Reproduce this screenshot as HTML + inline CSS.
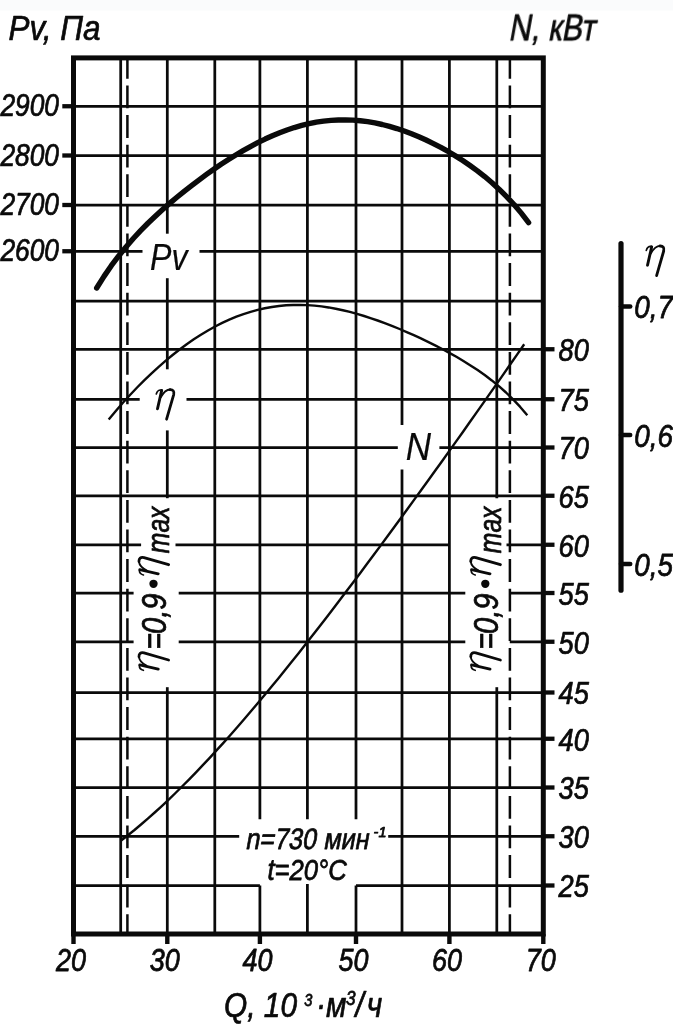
<!DOCTYPE html>
<html lang="ru">
<head>
<meta charset="utf-8">
<title>Fan performance chart</title>
<style>
html,body{margin:0;padding:0;background:#fff;}
body{width:673px;height:1024px;overflow:hidden;font-family:"Liberation Sans",sans-serif;}
svg{display:block;}
svg line,svg path,svg rect{stroke:#0a0a0a;}
svg text{fill:#0a0a0a;stroke:#0a0a0a;stroke-width:0.75px;stroke-linejoin:round;}
.s{font-family:"Liberation Sans",sans-serif;font-style:italic;}
.u{font-family:"Liberation Sans",sans-serif;font-style:normal;}
svg text.g{font-family:"Liberation Serif",serif;font-style:italic;stroke-width:0.1px;}
</style>
</head>
<body>
<svg width="673" height="1024" viewBox="0 0 673 1024">
<rect x="0" y="0" width="673" height="1024" style="fill:#ffffff;stroke:none"/>
<rect x="0" y="0" width="673" height="10.5" style="fill:#fafbfc;stroke:none"/>
<defs><g id="eta" fill="none" stroke-linecap="round" stroke-linejoin="round">
<path d="M2.0,-16.6 C2.6,-18.8 4.2,-20.7 6.6,-20.6" stroke-width="1.7"/>
<path d="M7.4,-20.2 L3.2,-1.8" stroke-width="2.9"/>
<path d="M6.6,-13.6 C8.8,-17.6 12.4,-21.0 16.0,-21.1" stroke-width="1.9"/>
<path d="M15.6,-21.0 C18.6,-21.2 20.2,-19.4 19.4,-16.0 L12.3,8.6" stroke-width="2.8"/>
</g></defs>
<g style="filter:blur(0.45px)">
<line x1="120.70" y1="57.90" x2="120.70" y2="934.00" stroke-width="2.75" />
<line x1="167.30" y1="57.90" x2="167.30" y2="233.70" stroke-width="2.75" />
<line x1="167.30" y1="278.20" x2="167.30" y2="369.30" stroke-width="2.75" />
<line x1="167.30" y1="430.40" x2="167.30" y2="498.20" stroke-width="2.75" />
<line x1="167.30" y1="687.20" x2="167.30" y2="934.00" stroke-width="2.75" />
<line x1="214.80" y1="57.90" x2="214.80" y2="934.00" stroke-width="2.75" />
<line x1="259.90" y1="57.90" x2="259.90" y2="819.20" stroke-width="2.75" />
<line x1="259.90" y1="885.50" x2="259.90" y2="934.00" stroke-width="2.75" />
<line x1="307.40" y1="57.90" x2="307.40" y2="819.20" stroke-width="2.75" />
<line x1="307.40" y1="884.00" x2="307.40" y2="934.00" stroke-width="2.75" />
<line x1="356.00" y1="57.90" x2="356.00" y2="819.20" stroke-width="2.75" />
<line x1="356.00" y1="885.50" x2="356.00" y2="934.00" stroke-width="2.75" />
<line x1="402.00" y1="57.90" x2="402.00" y2="424.90" stroke-width="2.75" />
<line x1="402.00" y1="469.40" x2="402.00" y2="934.00" stroke-width="2.75" />
<line x1="449.40" y1="57.90" x2="449.40" y2="934.00" stroke-width="2.75" />
<line x1="496.80" y1="57.90" x2="496.80" y2="498.20" stroke-width="2.75" />
<line x1="496.80" y1="687.20" x2="496.80" y2="934.00" stroke-width="2.75" />
<line x1="73.50" y1="106.25" x2="543.30" y2="106.25" stroke-width="2.75" />
<line x1="73.50" y1="155.50" x2="543.30" y2="155.50" stroke-width="2.75" />
<line x1="73.50" y1="205.00" x2="543.30" y2="205.00" stroke-width="2.75" />
<line x1="73.50" y1="251.25" x2="142.50" y2="251.25" stroke-width="2.75" />
<line x1="199.50" y1="251.25" x2="543.30" y2="251.25" stroke-width="2.75" />
<line x1="73.50" y1="301.00" x2="543.30" y2="301.00" stroke-width="2.75" />
<line x1="73.50" y1="349.25" x2="543.30" y2="349.25" stroke-width="2.75" />
<line x1="73.50" y1="399.25" x2="139.70" y2="399.25" stroke-width="2.75" />
<line x1="186.50" y1="399.25" x2="543.30" y2="399.25" stroke-width="2.75" />
<line x1="73.50" y1="447.50" x2="397.80" y2="447.50" stroke-width="2.75" />
<line x1="439.40" y1="447.50" x2="543.30" y2="447.50" stroke-width="2.75" />
<line x1="73.50" y1="495.75" x2="543.30" y2="495.75" stroke-width="2.75" />
<line x1="73.50" y1="544.75" x2="141.10" y2="544.75" stroke-width="2.75" />
<line x1="175.50" y1="544.75" x2="449.40" y2="544.75" stroke-width="2.75" />
<line x1="506.50" y1="544.75" x2="543.30" y2="544.75" stroke-width="2.75" />
<line x1="73.50" y1="593.00" x2="133.60" y2="593.00" stroke-width="2.75" />
<line x1="178.70" y1="593.00" x2="465.30" y2="593.00" stroke-width="2.75" />
<line x1="509.80" y1="593.00" x2="543.30" y2="593.00" stroke-width="2.75" />
<line x1="73.50" y1="641.75" x2="133.60" y2="641.75" stroke-width="2.75" />
<line x1="178.70" y1="641.75" x2="465.30" y2="641.75" stroke-width="2.75" />
<line x1="509.80" y1="641.75" x2="543.30" y2="641.75" stroke-width="2.75" />
<line x1="73.50" y1="692.50" x2="543.30" y2="692.50" stroke-width="2.75" />
<line x1="73.50" y1="738.75" x2="543.30" y2="738.75" stroke-width="2.75" />
<line x1="73.50" y1="787.50" x2="543.30" y2="787.50" stroke-width="2.75" />
<line x1="73.50" y1="836.25" x2="239.20" y2="836.25" stroke-width="2.75" />
<line x1="388.20" y1="836.25" x2="543.30" y2="836.25" stroke-width="2.75" />
<line x1="73.50" y1="885.50" x2="259.90" y2="885.50" stroke-width="2.75" />
<line x1="356.00" y1="885.50" x2="543.30" y2="885.50" stroke-width="2.75" />
<line x1="127.40" y1="55.90" x2="127.40" y2="934.00" stroke-width="2.5" stroke-dasharray="22.8 6.8"/>
<line x1="509.90" y1="55.90" x2="509.90" y2="934.00" stroke-width="2.5" stroke-dasharray="22.8 6.8"/>
<rect x="73.50" y="57.90" width="469.80" height="876.10" fill="none" stroke-width="5.0"/>
<line x1="62.30" y1="106.25" x2="73.50" y2="106.25" stroke-width="4.3" />
<line x1="62.30" y1="155.50" x2="73.50" y2="155.50" stroke-width="4.3" />
<line x1="62.30" y1="205.00" x2="73.50" y2="205.00" stroke-width="4.3" />
<line x1="62.30" y1="251.25" x2="73.50" y2="251.25" stroke-width="4.3" />
<line x1="543.30" y1="349.25" x2="554.50" y2="349.25" stroke-width="4.3" />
<line x1="543.30" y1="399.25" x2="554.50" y2="399.25" stroke-width="4.3" />
<line x1="543.30" y1="447.50" x2="554.50" y2="447.50" stroke-width="4.3" />
<line x1="543.30" y1="495.75" x2="554.50" y2="495.75" stroke-width="4.3" />
<line x1="543.30" y1="544.75" x2="554.50" y2="544.75" stroke-width="4.3" />
<line x1="543.30" y1="593.00" x2="554.50" y2="593.00" stroke-width="4.3" />
<line x1="543.30" y1="641.75" x2="554.50" y2="641.75" stroke-width="4.3" />
<line x1="543.30" y1="692.50" x2="554.50" y2="692.50" stroke-width="4.3" />
<line x1="543.30" y1="738.75" x2="554.50" y2="738.75" stroke-width="4.3" />
<line x1="543.30" y1="787.50" x2="554.50" y2="787.50" stroke-width="4.3" />
<line x1="543.30" y1="836.25" x2="554.50" y2="836.25" stroke-width="4.3" />
<line x1="543.30" y1="885.50" x2="554.50" y2="885.50" stroke-width="4.3" />
<line x1="73.50" y1="934.00" x2="73.50" y2="944.00" stroke-width="4.4" />
<line x1="167.30" y1="934.00" x2="167.30" y2="944.00" stroke-width="4.4" />
<line x1="259.90" y1="934.00" x2="259.90" y2="944.00" stroke-width="4.4" />
<line x1="356.00" y1="934.00" x2="356.00" y2="944.00" stroke-width="4.4" />
<line x1="449.40" y1="934.00" x2="449.40" y2="944.00" stroke-width="4.4" />
<line x1="543.30" y1="934.00" x2="543.30" y2="944.00" stroke-width="4.4" />
<line x1="621.00" y1="243.60" x2="621.00" y2="590.20" stroke-width="5.2" stroke-linecap="round"/>
<line x1="621.00" y1="306.60" x2="630.20" y2="306.60" stroke-width="4.5" stroke-linecap="round"/>
<line x1="621.00" y1="435.00" x2="630.20" y2="435.00" stroke-width="4.5" stroke-linecap="round"/>
<line x1="621.00" y1="564.00" x2="630.20" y2="564.00" stroke-width="4.5" stroke-linecap="round"/>
<path d="M96.7,288.00 L104.0,276.35 L111.3,265.71 L118.7,255.94 L126.0,246.91 L133.3,238.52 L140.6,230.66 L147.9,223.25 L155.3,216.23 L162.6,209.54 L169.9,203.13 L177.2,196.97 L184.5,191.04 L191.9,185.31 L199.2,179.78 L206.5,174.44 L213.8,169.28 L221.1,164.32 L228.5,159.55 L235.8,154.99 L243.1,150.65 L250.4,146.54 L257.7,142.68 L265.1,139.08 L272.4,135.75 L279.7,132.71 L287.0,129.97 L294.3,127.53 L301.7,125.43 L309.0,123.65 L316.3,122.20 L323.6,121.10 L331.0,120.34 L338.3,119.93 L345.6,119.86 L352.9,120.13 L360.2,120.74 L367.6,121.67 L374.9,122.93 L382.2,124.50 L389.5,126.38 L396.8,128.55 L404.2,131.01 L411.5,133.75 L418.8,136.76 L426.1,140.04 L433.4,143.58 L440.8,147.40 L448.1,151.48 L455.4,155.85 L462.7,160.51 L470.0,165.50 L477.4,170.84 L484.7,176.56 L492.0,182.73 L499.3,189.39 L506.6,196.62 L514.0,204.50 L521.3,213.13 L528.6,222.63" fill="none" stroke-width="5.4" stroke-linecap="round" stroke-linejoin="round"/>
<path d="M108.7,419.48 L115.8,410.94 L122.9,402.77 L130.0,394.96 L137.1,387.49 L144.2,380.35 L151.3,373.54 L158.4,367.05 L165.5,360.87 L172.6,355.01 L179.6,349.46 L186.7,344.24 L193.8,339.33 L200.9,334.74 L208.0,330.48 L215.1,326.54 L222.2,322.93 L229.3,319.66 L236.4,316.71 L243.5,314.10 L250.6,311.82 L257.7,309.87 L264.8,308.24 L271.9,306.95 L279.0,305.97 L286.1,305.31 L293.2,304.95 L300.3,304.89 L307.4,305.12 L314.5,305.63 L321.5,306.41 L328.6,307.44 L335.7,308.72 L342.8,310.23 L349.9,311.95 L357.0,313.88 L364.1,316.00 L371.2,318.29 L378.3,320.75 L385.4,323.36 L392.5,326.12 L399.6,329.01 L406.7,332.03 L413.8,335.17 L420.9,338.44 L428.0,341.83 L435.1,345.35 L442.2,349.01 L449.3,352.82 L456.4,356.81 L463.4,360.99 L470.5,365.41 L477.6,370.09 L484.7,375.08 L491.8,380.44 L498.9,386.22 L506.0,392.51 L513.1,399.37 L520.2,406.91 L527.3,415.22" fill="none" stroke-width="2.4" stroke-linejoin="round"/>
<path d="M120.8,840.82 L127.6,835.50 L134.5,829.97 L141.3,824.26 L148.1,818.35 L155.0,812.27 L161.8,806.01 L168.7,799.59 L175.5,793.00 L182.3,786.26 L189.2,779.37 L196.0,772.33 L202.8,765.16 L209.7,757.86 L216.5,750.43 L223.4,742.88 L230.2,735.21 L237.0,727.43 L243.9,719.54 L250.7,711.56 L257.5,703.47 L264.4,695.29 L271.2,687.03 L278.1,678.68 L284.9,670.24 L291.7,661.74 L298.6,653.16 L305.4,644.50 L312.2,635.79 L319.1,627.01 L325.9,618.17 L332.8,609.27 L339.6,600.32 L346.4,591.31 L353.3,582.26 L360.1,573.16 L366.9,564.02 L373.8,554.83 L380.6,545.61 L387.5,536.34 L394.3,527.04 L401.1,517.70 L408.0,508.32 L414.8,498.92 L421.6,489.48 L428.5,480.01 L435.3,470.50 L442.2,460.97 L449.0,451.41 L455.8,441.82 L462.7,432.20 L469.5,422.55 L476.3,412.87 L483.2,403.16 L490.0,393.43 L496.9,383.66 L503.7,373.86 L510.5,364.03 L517.4,354.16 L524.2,344.26" fill="none" stroke-width="2.4" stroke-linejoin="round"/>
<text class="s" transform="translate(59.00,116.45) scale(0.85,1)" font-size="31.0" text-anchor="end" >2900</text>
<text class="s" transform="translate(59.00,165.70) scale(0.85,1)" font-size="31.0" text-anchor="end" >2800</text>
<text class="s" transform="translate(59.00,215.20) scale(0.85,1)" font-size="31.0" text-anchor="end" >2700</text>
<text class="s" transform="translate(59.00,261.45) scale(0.85,1)" font-size="31.0" text-anchor="end" >2600</text>
<text class="s" transform="translate(558.60,361.05) scale(0.88,1)" font-size="31.0" text-anchor="start" >80</text>
<text class="s" transform="translate(558.60,411.05) scale(0.88,1)" font-size="31.0" text-anchor="start" >75</text>
<text class="s" transform="translate(558.60,459.30) scale(0.88,1)" font-size="31.0" text-anchor="start" >70</text>
<text class="s" transform="translate(558.60,507.55) scale(0.88,1)" font-size="31.0" text-anchor="start" >65</text>
<text class="s" transform="translate(558.60,556.55) scale(0.88,1)" font-size="31.0" text-anchor="start" >60</text>
<text class="s" transform="translate(558.60,604.80) scale(0.88,1)" font-size="31.0" text-anchor="start" >55</text>
<text class="s" transform="translate(558.60,653.55) scale(0.88,1)" font-size="31.0" text-anchor="start" >50</text>
<text class="s" transform="translate(558.60,704.30) scale(0.88,1)" font-size="31.0" text-anchor="start" >45</text>
<text class="s" transform="translate(558.60,750.55) scale(0.88,1)" font-size="31.0" text-anchor="start" >40</text>
<text class="s" transform="translate(558.60,799.30) scale(0.88,1)" font-size="31.0" text-anchor="start" >35</text>
<text class="s" transform="translate(558.60,848.05) scale(0.88,1)" font-size="31.0" text-anchor="start" >30</text>
<text class="s" transform="translate(558.60,897.30) scale(0.88,1)" font-size="31.0" text-anchor="start" >25</text>
<text class="s" transform="translate(71.00,971.00) scale(0.87,1)" font-size="31.0" text-anchor="middle" >20</text>
<text class="s" transform="translate(164.80,971.00) scale(0.87,1)" font-size="31.0" text-anchor="middle" >30</text>
<text class="s" transform="translate(257.40,971.00) scale(0.87,1)" font-size="31.0" text-anchor="middle" >40</text>
<text class="s" transform="translate(353.50,971.00) scale(0.87,1)" font-size="31.0" text-anchor="middle" >50</text>
<text class="s" transform="translate(446.90,971.00) scale(0.87,1)" font-size="31.0" text-anchor="middle" >60</text>
<text class="s" transform="translate(540.80,971.00) scale(0.87,1)" font-size="31.0" text-anchor="middle" >70</text>
<text class="s" transform="translate(634.30,318.10) scale(0.89,1)" font-size="31.3" text-anchor="start" >0,7</text>
<text class="s" transform="translate(634.30,446.50) scale(0.89,1)" font-size="31.3" text-anchor="start" >0,6</text>
<text class="s" transform="translate(634.30,575.50) scale(0.89,1)" font-size="31.3" text-anchor="start" >0,5</text>
<text class="s" transform="translate(8.50,40.30) scale(0.885,1)" font-size="35.5" text-anchor="start" >Pv, Па</text>
<text class="u" transform="translate(508.30,39.80) scale(0.857,1) skewX(-12)" font-size="36" text-anchor="start" >N, кВт</text>
<text class="s" transform="translate(150.00,269.60) scale(0.857,1)" font-size="37.5" text-anchor="start" style="stroke-width:0.2px">Pv</text>
<text class="s" transform="translate(405.70,460.20) scale(0.91,1)" font-size="38.5" text-anchor="start" style="stroke-width:0.2px">N</text>
<use href="#eta" transform="translate(154.30,410.60) scale(1.0)"/>
<use href="#eta" transform="translate(644.30,267.00) scale(1.0)"/>
<text class="u" transform="translate(245.00,848.90) scale(0.856,1) skewX(-12)" font-size="29.5" text-anchor="start" >n=730 мин</text>
<text class="s" transform="translate(373.60,837.20) scale(1.0,1)" font-size="14.5" text-anchor="start" >-1</text>
<text class="s" transform="translate(267.40,880.20) scale(0.87,1)" font-size="29.5" text-anchor="start" >t=20°C</text>
<text class="s" transform="translate(224.00,1016.50) scale(0.83,1)" font-size="36" text-anchor="start" >Q, 10</text>
<text class="s" transform="translate(304.30,1006.00) scale(0.86,1)" font-size="17" text-anchor="start" >3</text>
<text class="s" transform="translate(316.00,1016.50) scale(0.83,1)" font-size="36" text-anchor="start" >·м</text>
<text class="s" transform="translate(346.00,1005.30) scale(0.86,1)" font-size="20" text-anchor="start" >3</text>
<text class="s" transform="translate(355.50,1016.50) scale(0.83,1)" font-size="36" text-anchor="start" >/</text>
<text class="s" transform="translate(366.70,1016.50) scale(0.83,1)" font-size="36" text-anchor="start" >ч</text>
<g transform="translate(166.20,671.00) rotate(-90)">
<use href="#eta" transform="translate(-1.30,-6.20) scale(1.0)"/>
<text class="s" transform="translate(21.60,0.00) scale(0.78,1)" font-size="36" text-anchor="start" >=</text>
<text class="s" transform="translate(37.00,0.00) scale(0.81,1)" font-size="36" text-anchor="start" >0,9</text>
<circle cx="87.2" cy="-12.7" r="4.15" style="stroke:none" fill="#0a0a0a"/>
<use href="#eta" transform="translate(94.00,-6.20) scale(1.0)"/>
<text class="s" transform="translate(117.80,2.60) scale(0.81,1)" font-size="30.5" text-anchor="start" >max</text>
</g>
<g transform="translate(498.00,671.00) rotate(-90)">
<use href="#eta" transform="translate(-1.30,-6.20) scale(1.0)"/>
<text class="s" transform="translate(21.60,0.00) scale(0.78,1)" font-size="36" text-anchor="start" >=</text>
<text class="s" transform="translate(37.00,0.00) scale(0.81,1)" font-size="36" text-anchor="start" >0,9</text>
<circle cx="87.2" cy="-12.7" r="4.15" style="stroke:none" fill="#0a0a0a"/>
<use href="#eta" transform="translate(94.00,-6.20) scale(1.0)"/>
<text class="s" transform="translate(117.80,2.60) scale(0.81,1)" font-size="30.5" text-anchor="start" >max</text>
</g>
</g>
</svg>
</body>
</html>
